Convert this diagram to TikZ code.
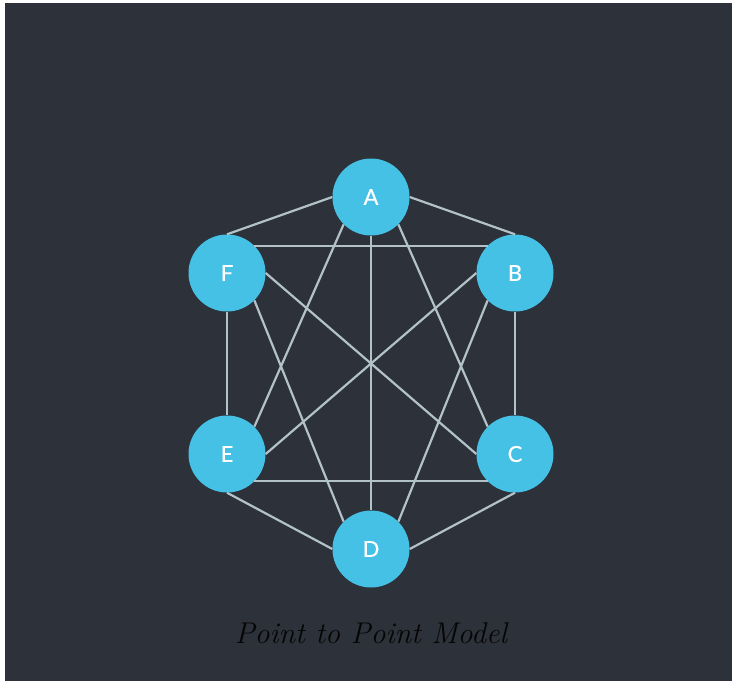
\documentclass[tikz,border=0pt]{standalone}
\usepackage{fontspec}
\usepackage{tikz}
\usetikzlibrary{positioning}
\newfontfamily\hostfont{Lato}[FakeBold=0.6]
\definecolor{NetBack}{HTML}{2D3139}
\definecolor{NetHost}{HTML}{45C1E6}
\definecolor{NetLink}{HTML}{B2C2C7}
\definecolor{NetCaption}{HTML}{050506}

\begin{document}
\begin{tikzpicture}[x=1pt,y=-1pt,
    host/.style={circle,fill=NetHost,draw=none,minimum size=77pt,
      inner sep=0pt,text=white,font=\hostfont\fontsize{22}{25}\selectfont},
    link/.style={NetLink,line width=2.2pt}]
  \useasboundingbox (0,0) rectangle (732,681);
  \fill[white] (0,0) rectangle (732,681);
  \fill[NetBack] (5,3) rectangle (732,681);
  % hosts on a hexagon
  \node[host] (A) at (371,197) {A};
  \node[host] (F) at (227,273) {F};
  \node[host] (B) at (515,273) {B};
  \node[host] (E) at (227,454) {E};
  \node[host] (C) at (515,454) {C};
  \node[host] (D) at (371,549) {D};
  % outer ring
  \draw[link] (A.west) -- (F.north);
  \draw[link] (A.east) -- (B.north);
  \draw[link] (F.south) -- (E.north);
  \draw[link] (B.south) -- (C.north);
  \draw[link] (E.south) -- (D.west);
  \draw[link] (C.south) -- (D.east);
  % chords
  \draw[link] (A.south west) -- (E.north east);
  \draw[link] (A.south) -- (D.north);
  \draw[link] (A.south east) -- (C.north west);
  \draw[link] (F.north east) -- (B.north west);
  \draw[link] (F.east) -- (C.west);
  \draw[link] (F.south east) -- (D.north west);
  \draw[link] (B.west) -- (E.east);
  \draw[link] (B.south west) -- (D.north east);
  \draw[link] (E.south east) -- (C.south west);
  \node[NetCaption,font=\itshape\fontsize{30}{34}\selectfont] (caption)
    at (371,633) {Point to Point Model};
\end{tikzpicture}
\end{document}
